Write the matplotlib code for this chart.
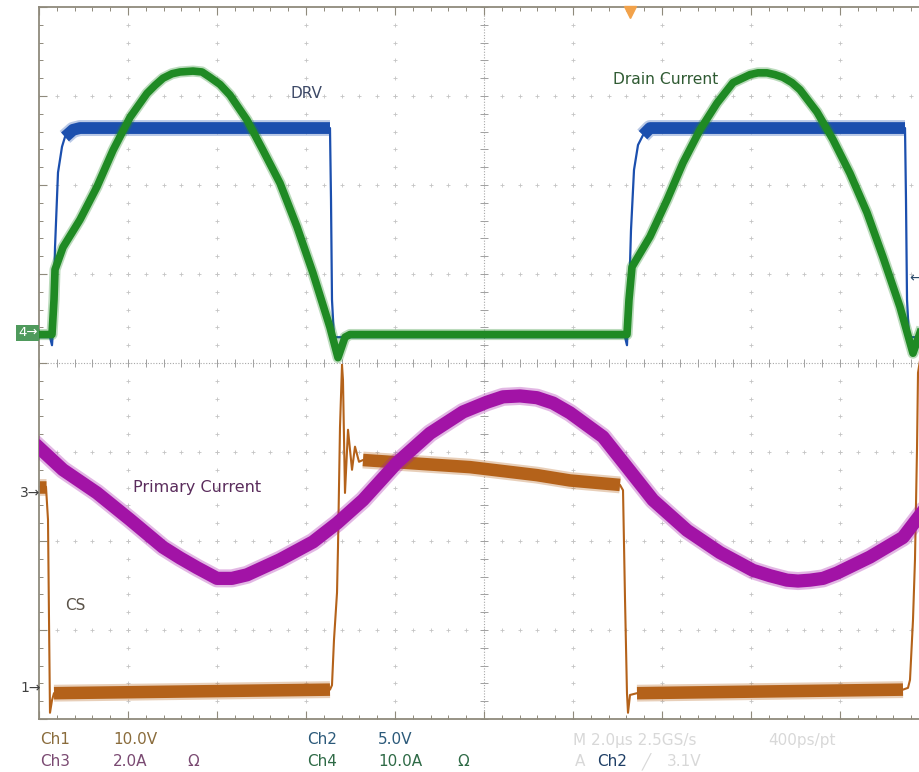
import matplotlib
matplotlib.use('Agg')
import matplotlib.pyplot as plt
import numpy as np

# scope screen: 2 us/div horizontally (10 div), 8 div vertically
# trace values below are in screen divisions, time in us

# Ch2 - gate drive (DRV)
drv_t = [0, 0.247, 0.292, 0.315, 0.360, 0.427, 0.517, 0.584, 0.764, 0.921,
         6.539, 6.562, 6.584, 6.629,
         13.169, 13.213, 13.258, 13.303, 13.371, 13.461, 13.573, 13.730,
         19.461, 19.483, 19.506, 19.551, 19.798]
drv_v = [0.29, 0.29, 0.20, 0.37, 1.30, 2.14, 2.43, 2.54, 2.62, 2.64,
         2.64, 1.83, 0.71, 0.29,
         0.29, 0.20, 0.71, 1.49, 2.17, 2.45, 2.56, 2.64,
         2.64, 1.83, 0.71, 0.29, 0.29]

# Ch4 - drain current
drain_t = [0, 0.292, 0.337, 0.360, 0.539, 0.921, 1.303, 1.663, 2.045, 2.427,
           2.607, 2.787, 2.989, 3.169, 3.461, 3.663, 3.843, 4.067, 4.292, 4.674,
           5.034, 5.416, 5.798, 6.157, 6.539, 6.719, 6.876, 6.989,
           13.213, 13.258, 13.326, 13.730, 14.112, 14.472, 14.854, 15.236, 15.596, 15.978,
           16.157, 16.360, 16.539, 16.719, 16.921, 17.101, 17.483, 17.843, 18.225, 18.607,
           18.966, 19.348, 19.640, 19.798]
drain_v = [0.32, 0.32, 0.71, 1.05, 1.30, 1.61, 1.98, 2.39, 2.76, 3.03,
           3.12, 3.20, 3.25, 3.27, 3.28, 3.27, 3.21, 3.13, 3.01, 2.73,
           2.39, 2.02, 1.53, 1.01, 0.40, 0.06, 0.29, 0.32,
           0.32, 0.71, 1.08, 1.42, 1.83, 2.25, 2.62, 2.92, 3.15, 3.24,
           3.26, 3.26, 3.24, 3.21, 3.15, 3.07, 2.82, 2.51, 2.13, 1.69,
           1.19, 0.63, 0.11, 0.34]

# Ch3 - primary current
pri_t = [0.022, 0.539, 1.303, 2.045, 2.787, 3.169, 3.551, 4.000, 4.337, 4.674,
         5.416, 6.157, 6.697, 7.281, 8.045, 8.787, 9.528, 10.067, 10.427, 10.809,
         11.191, 11.551, 11.933, 12.674, 13.213, 13.798, 14.562, 15.303, 16.045, 16.427,
         16.809, 17.056, 17.326, 17.618, 17.933, 18.674, 19.416, 19.798]
pri_v = [-0.96, -1.20, -1.46, -1.76, -2.07, -2.19, -2.30, -2.42, -2.42, -2.38,
         -2.21, -2.01, -1.80, -1.54, -1.12, -0.79, -0.55, -0.44, -0.38, -0.37,
         -0.39, -0.45, -0.56, -0.83, -1.17, -1.54, -1.88, -2.13, -2.33, -2.39,
         -2.44, -2.45, -2.44, -2.42, -2.36, -2.18, -1.96, -1.71]

# Ch1 - current sense (CS)
cs_t = [0, 0.157, 0.202, 0.225, 0.247, 0.292, 0.337,
        6.539, 6.584, 6.629, 6.697, 6.719, 6.764, 6.809, 6.831, 6.876, 6.944,
        7.034, 7.101, 7.191, 7.281, 9.685, 11.191, 11.933, 13.056, 13.124, 13.169,
        13.213, 13.236, 13.281, 13.438, 19.416, 19.528, 19.573, 19.640, 19.685, 19.730,
        19.753, 19.798]
cs_v = [-1.39, -1.39, -1.76, -2.89, -3.93, -3.79, -3.71,
        -3.67, -3.62, -3.11, -2.58, -2.07, -0.72, -0.02, -0.19, -1.46, -0.75,
        -1.20, -0.94, -1.11, -1.09, -1.17, -1.26, -1.32, -1.37, -1.43, -2.66,
        -3.71, -3.93, -3.73, -3.71, -3.67, -3.65, -3.56, -2.89, -2.21, -0.98,
        -0.11, 0.03]

# noisy (thick) stretches of each trace, as index ranges
drv_bands = [(7, 11), (20, 23)]
cs_bands = [(0, 2), (6, 8), (20, 25), (30, 32)]

trig_t = 13.28

W, H = 920, 772
BLUE = '#1b4fae'
GREEN = '#1f8a24'
PURPLE = '#a213a6'
BROWN = '#b4621a'
EDGE = '#8f8a7c'


def fx(px):
    return px / W


def fy(py):
    return 1 - py / H


def trace(ax, t, v, color, lw_thin, bands, lw_band, z):
    t = np.array(t)
    v = np.array(v)
    ax.plot(t, v, color=color, lw=lw_thin, zorder=z, solid_joinstyle='round')
    for a, b in bands:
        ax.plot(t[a:b], v[a:b], color=color, lw=lw_band * 1.35, alpha=0.3,
                zorder=z, solid_capstyle='butt')
        ax.plot(t[a:b], v[a:b], color=color, lw=lw_band, zorder=z,
                solid_capstyle='butt')


fig = plt.figure(figsize=(9.2, 7.72), dpi=100)
fig.patch.set_facecolor('white')
ax = fig.add_axes([fx(39), fy(719), 890 / W, 712 / H])
ax.set_xlim(0, 20)
ax.set_ylim(-4, 4)

ax.set_xticks(np.arange(0, 21, 2))
ax.set_xticks(np.arange(0, 20.01, 0.4), minor=True)
ax.set_yticks(np.arange(-4, 5, 1))
ax.set_yticks(np.arange(-4, 4.01, 0.2), minor=True)
ax.tick_params(which='both', direction='in', top=True, right=True,
               labelbottom=False, labelleft=False, color=EDGE)
ax.tick_params(which='major', length=6, width=0.8)
ax.tick_params(which='minor', length=3, width=0.7)
for s in ax.spines.values():
    s.set_color(EDGE)
    s.set_linewidth(1.3)

# graticule
ys = np.arange(-4, 4.01, 0.2)
xs = np.arange(0, 20.01, 0.4)
for xv in range(2, 20, 2):
    if xv != 10:
        ax.plot(np.full(len(ys), xv), ys, '+', ms=3, mew=0.6, color='#c4c4c4', zorder=1)
for yv in range(-3, 4):
    if yv != 0:
        ax.plot(xs, np.full(len(xs), yv), '+', ms=3, mew=0.6, color='#c4c4c4', zorder=1)
ax.axvline(10, ls=(0, (1, 1.5)), lw=0.8, color='#a8a8a8', zorder=1)
ax.axhline(0, ls=(0, (1, 1.5)), lw=0.8, color='#a8a8a8', zorder=1)
ax.plot(np.full(len(ys), 10), ys, '_', ms=6, mew=0.7, color='#a0a0a0', zorder=1)
ax.plot(xs, np.zeros(len(xs)), '|', ms=6, mew=0.7, color='#a0a0a0', zorder=1)

# traces
trace(ax, cs_t, cs_v, BROWN, 1.5, cs_bands, 9, 2)
ax.plot(pri_t, pri_v, color=PURPLE, lw=13, alpha=0.3, zorder=3, solid_joinstyle='round')
ax.plot(pri_t, pri_v, color=PURPLE, lw=9.5, zorder=3, solid_joinstyle='round')
trace(ax, drv_t, drv_v, BLUE, 1.6, drv_bands, 8.5, 4)
ax.plot(drain_t, drain_v, color=GREEN, lw=8, alpha=0.3, zorder=5, solid_joinstyle='round')
ax.plot(drain_t, drain_v, color=GREEN, lw=5.5, zorder=5, solid_joinstyle='round')

# labels on screen
ax.text(6.02, 3.03, 'DRV', color='#3c4866', fontsize=11, ha='center', va='center', zorder=6)
ax.text(12.9, 3.18, 'Drain Current', color='#2f5a32', fontsize=11.2, ha='left', va='center', zorder=6)
ax.text(2.11, -1.40, 'Primary Current', color='#5a2c5c', fontsize=11.5, ha='left', va='center', zorder=6)
ax.text(0.58, -2.73, 'CS', color='#5a5248', fontsize=11, ha='left', va='center', zorder=6)

# trigger markers
ax.plot([trig_t], [3.94], marker='v', ms=9, color='#f2a24a', clip_on=False, zorder=7)
fig.text(fx(921), fy(278), '←', color='#2a4a6a', fontsize=10, ha='right', va='center')

# channel ground markers
fig.text(fx(18), fy(333), '4→', color='white', fontsize=9.5, ha='left', va='center',
         bbox=dict(boxstyle='square,pad=0.15', facecolor='#4f9a5c', edgecolor='none'))
fig.text(fx(20), fy(493), '3→', color='#404040', fontsize=10, ha='left', va='center')
fig.text(fx(20), fy(688), '1→', color='#404040', fontsize=10, ha='left', va='center')

# readout
c1 = '#8a6c3c'
c3 = '#7a4a72'
c2 = '#2c5a7a'
c4 = '#2e6a46'
light = '#d8d8d8'
fs = 11
fig.text(fx(40), fy(740), 'Ch1', color=c1, fontsize=fs, va='center')
fig.text(fx(113), fy(740), '10.0V', color=c1, fontsize=fs, va='center')
fig.text(fx(307), fy(740), 'Ch2', color=c2, fontsize=fs, va='center')
fig.text(fx(378), fy(740), '5.0V', color=c2, fontsize=fs, va='center')
fig.text(fx(573), fy(740), 'M 2.0µs 2.5GS/s', color=light, fontsize=fs, va='center')
fig.text(fx(768), fy(740), '400ps/pt', color=light, fontsize=fs, va='center')
fig.text(fx(40), fy(762), 'Ch3', color=c3, fontsize=fs, va='center')
fig.text(fx(113), fy(762), '2.0A', color=c3, fontsize=fs, va='center')
fig.text(fx(187), fy(762), 'Ω', color=c3, fontsize=fs, va='center')
fig.text(fx(307), fy(762), 'Ch4', color=c4, fontsize=fs, va='center')
fig.text(fx(378), fy(762), '10.0A', color=c4, fontsize=fs, va='center')
fig.text(fx(457), fy(762), 'Ω', color=c4, fontsize=fs, va='center')
fig.text(fx(575), fy(762), 'A', color=light, fontsize=fs, va='center')
fig.text(fx(597), fy(762), 'Ch2', color='#1f3f66', fontsize=fs, va='center')
fig.text(fx(642), fy(762), '╱', color=light, fontsize=fs, va='center')
fig.text(fx(667), fy(762), '3.1V', color=light, fontsize=fs, va='center')

fig.savefig('out.png', dpi=100, facecolor='white')
